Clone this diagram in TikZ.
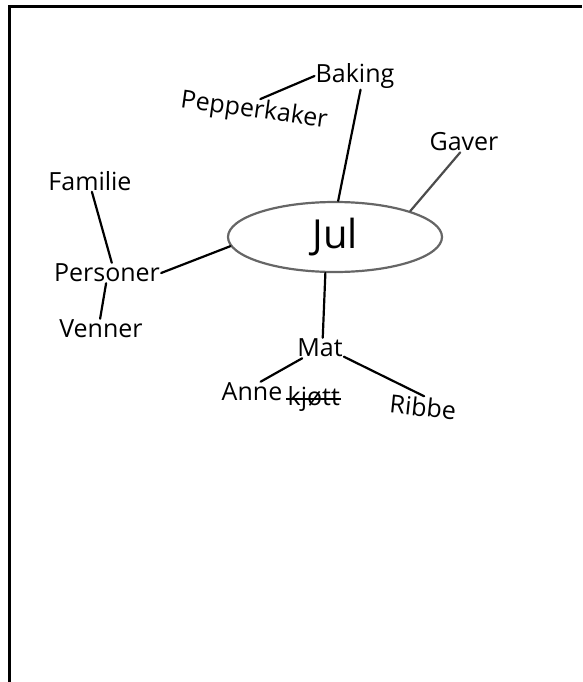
\documentclass[tikz,border=0pt]{standalone}
\usepackage{fontspec}
\setmainfont{Open Sans}
\usetikzlibrary{shapes.geometric, positioning}

\begin{document}
\begin{tikzpicture}[
    x=1pt, y=-1pt,
    every node/.style={font=\fontsize{25}{29}\selectfont, inner sep=1pt},
    link/.style={draw=black, line width=2.2pt, line cap=round},
  ]
  \definecolor{ring}{gray}{0.4}

  \useasboundingbox (0,0) rectangle (582,682);
  % frame, only top and left edge show
  \draw[line width=3pt] (9,682) -- (9,7) -- (582,7);

  \node[ellipse, draw=ring, line width=2.2pt, minimum width=214pt,
    minimum height=70pt, font=\fontsize{40}{44}\selectfont] (jul) at (335,237) {Jul};

  \node (baking) at (355,76) {Baking};
  \node[rotate=-8, inner sep=0pt] (pepper) at (254,111) {Pepperkaker};
  \node (gaver) at (464,142) {Gaver};
  \node (familie) at (90,181) {Familie};
  \node (personer) at (107,273) {Personer};
  \node (venner) at (101,329) {Venner};
  \node (mat) at (320,348) {Mat};
  \node (anne) at (252,392) {Anne};
  \node[right=3pt of anne, yshift=-7pt] (kjott) {kjøtt};
  % struck out word
  \draw[line width=1.2pt] (kjott.west) -- (kjott.east);
  \node[rotate=-6] (ribbe) at (423,407) {Ribbe};

  \draw[link] (pepper.70) -- (baking.west);
  \draw[link] (baking.-68) -- (jul.85);
  \draw[link, draw=black!70] (gaver.-110) -- (jul.19);
  \draw[link] (familie.-80) -- (personer.65);
  \draw[link] (personer.east) -- (jul.185);
  \draw[link] (personer.-95) -- (venner.95);
  \draw[link] (jul.255) -- (mat.75);
  \draw[link] (mat.-150) -- (anne.50);
  \draw[link] (mat.-20) -- (ribbe.north);
\end{tikzpicture}
\end{document}
